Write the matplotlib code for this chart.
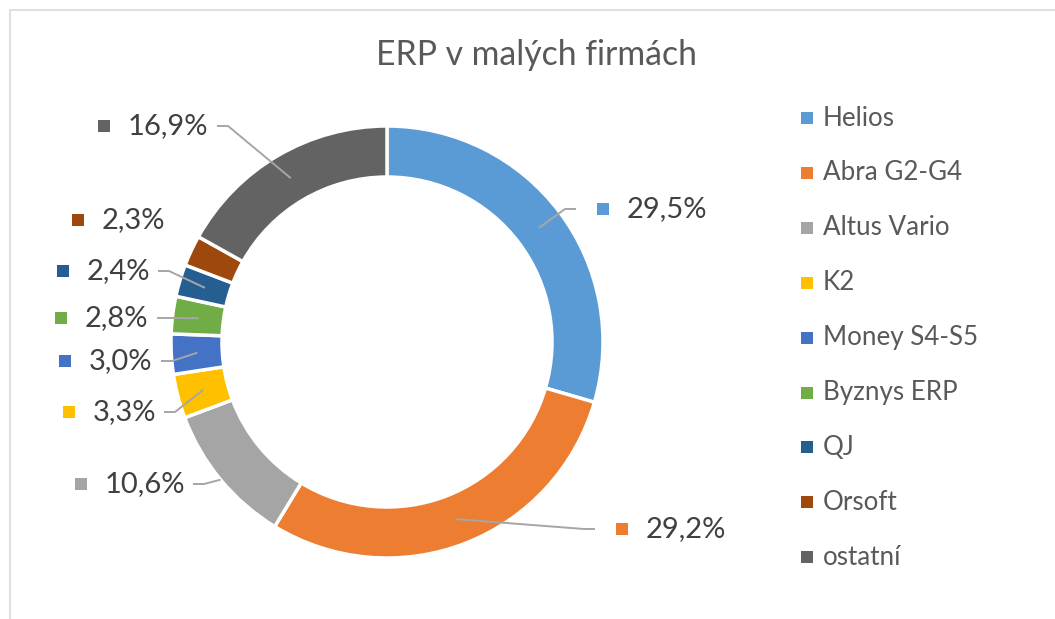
import numpy as np
import matplotlib.pyplot as plt

plt.rcParams['font.family'] = ['Lato', 'DejaVu Sans']

# data
names = ['Helios', 'Abra G2-G4', 'Altus Vario', 'K2', 'Money S4-S5',
         'Byznys ERP', 'QJ', 'Orsoft', 'ostatní']
shares = [29.5, 29.2, 10.6, 3.3, 3.0, 2.8, 2.4, 2.3, 16.9]
colors = ['#5B9BD5', '#ED7D31', '#A5A5A5', '#FFC000', '#4472C4',
          '#70AD47', '#255E91', '#9E480E', '#636363']
title = 'ERP v malých firmách'

# label layout in pixels (y measured from top)
lbl_x = [603, 622, 81, 69, 65, 61, 63, 78, 104]
lbl_y = [209, 529, 484, 412, 361, 318, 271, 220, 126]
lead_end = [576, 595, 193, 164, 161, 157, 158, None, 217]
anchor_r = [190, 190, 216, 190, 190, 190, 190, 190, 190]

W, H = 1055, 619
fig = plt.figure(figsize=(W / 100, H / 100), dpi=100)
ax = fig.add_axes([0, 0, 1, 1])

cx, cy, R, ring = 387, H - 342, 216, 51
ax.pie(shares, colors=colors, startangle=90, counterclock=False,
       radius=R, center=(cx, cy), frame=True,
       wedgeprops=dict(width=ring, edgecolor='white', linewidth=2.5))
ax.set_xlim(0, W)
ax.set_ylim(0, H)
ax.set_aspect('equal')
ax.axis('off')

# outer chart border (right and bottom are cut off)
ax.plot([10, 10, W + 5], [-5, H - 10, H - 10], color='#D9D9D9', lw=1.2,
        clip_on=False)

ax.text(537, H - 55, title, ha='center', va='center', fontsize=24.3,
        color='#595959')

# data labels with leader lines
cum = np.cumsum([0] + shares[:-1])
for i, v in enumerate(shares):
    a = np.radians((cum[i] + v / 2) / 100 * 360)
    ax_, ay_ = cx + anchor_r[i] * np.sin(a), cy + anchor_r[i] * np.cos(a)
    ly = H - lbl_y[i]
    if lead_end[i] is not None:
        ex = lead_end[i]
        bx = ex - 11 if ex > cx else ex + 11
        ax.plot([ex, bx, ax_], [ly, ly, ay_], color='#A6A6A6', lw=1.4,
                solid_capstyle='butt', zorder=5)
    ax.plot(lbl_x[i], ly, marker='s', ms=9, color=colors[i], mew=0)
    ax.text(lbl_x[i] + 24, ly, ('%.1f%%' % v).replace('.', ','),
            ha='left', va='center', fontsize=21, color='#404040')

# legend
for i, n in enumerate(names):
    y = H - (118 + i * 54.9)
    ax.plot(807, y, marker='s', ms=8.5, color=colors[i], mew=0)
    ax.text(823, y, n, ha='left', va='center', fontsize=18.7, color='#595959')

plt.savefig('out.png', dpi=100)
